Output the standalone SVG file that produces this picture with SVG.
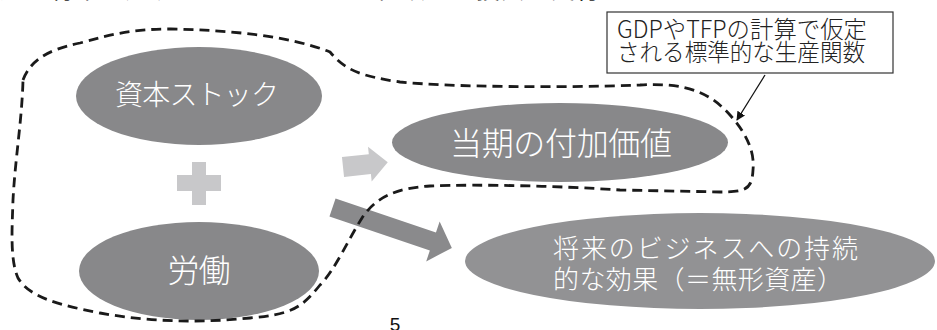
<svg xmlns="http://www.w3.org/2000/svg" width="937" height="330" viewBox="0 0 937 330">
<style>
.node{fill:#88888a}
.lbl{fill:#ffffff;font-family:"Noto Sans CJK JP","Noto Sans",sans-serif;font-weight:300;dominant-baseline:central}
.call{fill:#222222;font-family:"Noto Sans CJK JP","Noto Sans",sans-serif;font-size:24px;font-weight:300;dominant-baseline:central}
.light{fill:#c8c8ca}
.dark{fill:#8a8a8c}
.dash{fill:none;stroke:#1a1a1a;stroke-width:2.8;stroke-dasharray:10 6}
</style>
<defs>
<marker id="ah" viewBox="0 0 10 10" refX="9" refY="5" markerWidth="9" markerHeight="9" orient="auto" markerUnits="userSpaceOnUse">
<path d="M0,0 L10,5 L0,10 Z" fill="#111"/>
</marker>
</defs>
<rect width="937" height="330" fill="#ffffff"/>
<text x="0" y="-2" font-family="'Noto Sans CJK JP',sans-serif" font-size="24" fill="#222" textLength="625" lengthAdjust="spacing">造。将来の成功につながるような種類への投資を実行。</text>

<g id="capital">
<ellipse class="node" cx="199" cy="96" rx="123" ry="49"/>
<text class="lbl" x="197" y="93" font-size="28" text-anchor="middle" textLength="164" lengthAdjust="spacing">資本ストック</text>
</g>
<g id="plus">
<rect class="light" x="192" y="162" width="14" height="43"/>
<rect class="light" x="177" y="175" width="44" height="16"/>
</g>
<g id="labor">
<ellipse class="node" cx="199" cy="271" rx="120" ry="49"/>
<text class="lbl" x="199" y="268" font-size="32" text-anchor="middle" textLength="63" lengthAdjust="spacing">労働</text>
</g>
<g id="value-added">
<ellipse class="node" cx="560" cy="142.5" rx="168" ry="39.5"/>
<text class="lbl" x="561" y="140.5" font-size="32" text-anchor="middle" textLength="222" lengthAdjust="spacing">当期の付加価値</text>
</g>
<g id="intangible">
<ellipse fill="#929294" cx="700" cy="261" rx="235" ry="48"/>
<text class="lbl" x="553" y="246" font-size="26" textLength="305" lengthAdjust="spacing">将来のビジネスへの持続</text>
<text class="lbl" x="553" y="277" font-size="26" textLength="290" lengthAdjust="spacing">的な効果（＝無形資産）</text>
</g>
<g id="callout">
<rect x="607" y="12" width="286" height="61" fill="#ffffff" stroke="#333" stroke-width="1.2"/>
<text class="call" x="617" y="27.5" textLength="250" lengthAdjust="spacingAndGlyphs">GDPやTFPの計算で仮定</text>
<text class="call" x="617" y="50.5" textLength="248" lengthAdjust="spacingAndGlyphs">される標準的な生産関数</text>
</g>

<g id="connectors">
<polygon class="light" transform="translate(343,167) rotate(-6)" points="0,-10 27,-10 27,-17.5 45,0 27,17.5 27,10 0,10"/>
<polygon class="dark" transform="translate(332.5,207.5) rotate(18.7)" points="0,-9.5 106,-9.5 106,-21 126,0 106,21 106,9.5 0,9.5"/>
<path class="dash" d="M 23 80 C 30 62, 45 50, 80 43 C 110 35, 130 29, 170 29 C 230 30, 290 36, 330 52 C 345 70, 360 76, 400 82 C 450 87, 560 88, 640 85 C 690 82, 712 95, 730 115 C 745 132, 755 150, 753 170 C 752 190, 745 192, 720 192 L 620 190 C 560 186, 480 184, 430 186 C 395 188, 375 198, 362 218 C 348 240, 335 270, 320 285 C 300 310, 290 314, 250 318 C 200 323, 150 322, 100 313 C 60 305, 30 298, 18 278 C 10 260, 12 230, 13 200 C 15 160, 22 120, 23 80 Z"/>
<line x1="765" y1="75" x2="737" y2="120" stroke="#111" stroke-width="1.3" marker-end="url(#ah)"/>
</g>
<text x="395" y="331" font-family="'Liberation Sans',sans-serif" font-size="19" fill="#111" text-anchor="middle">5</text>
</svg>
